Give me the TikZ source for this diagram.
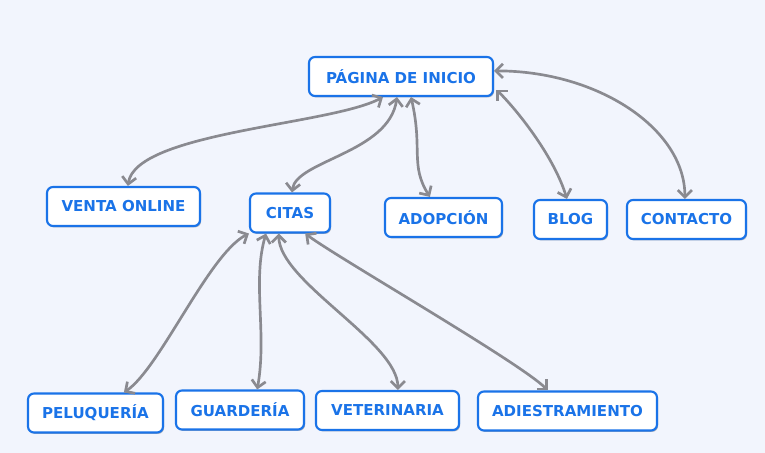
\documentclass[tikz,border=0pt]{standalone}
\usepackage{fontspec}
\setmainfont{DejaVu Sans}
\usetikzlibrary{arrows.meta, shadows}
\definecolor{bgcol}{RGB}{242,245,253}
\definecolor{boxblue}{RGB}{26,115,232}
\definecolor{linkgray}{RGB}{138,138,144}
\tikzset{
    page/.style={
        draw=boxblue,
        line width=1.5pt,
        fill=white,
        rounded corners=0.15cm,
        minimum height=0.975cm,
        inner xsep=0.3cm,
        text=boxblue,
        font=\bfseries\fontsize{10.7}{12}\selectfont,
        drop shadow={shadow xshift=0.8pt, shadow yshift=-1pt, opacity=0.25, fill=black}
    },
    link/.style={
        {Straight Barb[length=5pt, width=10pt]}-{Straight Barb[length=5pt, width=10pt]},
        draw=linkgray,
        line width=1.9pt
    }
}

\begin{document}
\begin{tikzpicture}
\fill[bgcol] (0,0) rectangle (19.125,11.325);
\useasboundingbox (0,0) rectangle (19.125,11.325);

\node[page, minimum width=4.6cm] (home) at (10.025,9.4125) {PÁGINA DE INICIO};

\node[page, minimum width=3.825cm] (venta) at (3.0875,6.1625) {VENTA ONLINE};
\node[page, minimum width=2.0cm] (citas) at (7.25,6.0) {CITAS};
\node[page, minimum width=2.925cm] (adopcion) at (11.0875,5.8875) {ADOPCIÓN};
\node[page, minimum width=1.825cm] (blog) at (14.2625,5.8375) {BLOG};
\node[page, minimum width=2.975cm] (contacto) at (17.1625,5.8375) {CONTACTO};

\node[page, minimum width=3.375cm] (peluqueria) at (2.3875,1.0) {PELUQUERÍA};
\node[page, minimum width=3.2cm] (guarderia) at (6.0,1.075) {GUARDERÍA};
\node[page, minimum width=3.575cm] (veterinaria) at (9.6875,1.0625) {VETERINARIA};
\node[page, minimum width=4.475cm] (adiestramiento) at (14.1875,1.05) {ADIESTRAMIENTO};

% links from the home page
\draw[link] ([xshift=-0.45cm]home.south) .. controls +(-1.3,-0.7) and +(0.2,1.35) .. ([xshift=0.11cm]venta.north);
\draw[link] ([xshift=-0.1cm]home.south) .. controls +(-0.2,-1.4) and +(0.1,0.8) .. ([xshift=0.05cm]citas.north);
\draw[link] ([xshift=0.25cm]home.south) .. controls +(0.3,-1.3) and +(-0.5,0.8) .. ([xshift=-0.34cm]adopcion.north);
\draw[link] ([xshift=0.06cm, yshift=-0.33cm]home.east) .. controls +(0.6,-0.6) and +(-0.3,1.0) .. ([xshift=-0.09cm]blog.north);
\draw[link] ([yshift=0.14cm]home.east) .. controls +(2.6,0) and +(0,1.75) .. ([xshift=-0.04cm]contacto.north);

% links from citas
\draw[link] (citas.south west) .. controls +(-1.0,-0.5) and +(0.9,0.6) .. ([xshift=0.71cm]peluqueria.north);
\draw[link] ([xshift=-0.6cm]citas.south) .. controls +(-0.35,-1.2) and +(0.25,1.4) .. ([xshift=0.43cm]guarderia.north);
\draw[link] ([xshift=-0.28cm]citas.south) .. controls +(0,-1.2) and +(0,1.2) .. ([xshift=0.26cm]veterinaria.north);
\draw[link] ([xshift=0.38cm]citas.south) .. controls +(0.8,-0.6) and +(-0.7,0.7) .. ([xshift=-0.49cm]adiestramiento.north);
\end{tikzpicture}
\end{document}
